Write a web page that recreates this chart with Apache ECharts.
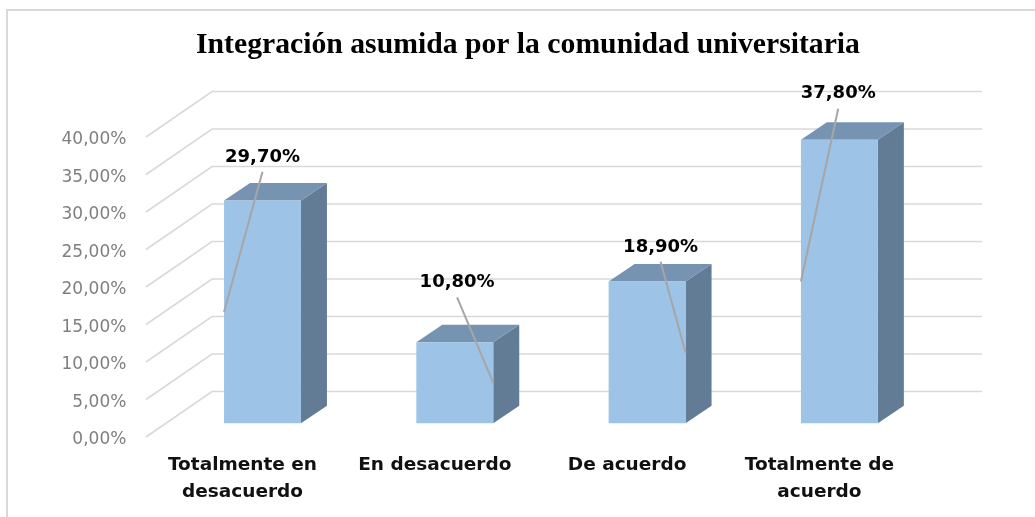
<!DOCTYPE html>
<html>
<head>
<meta charset="utf-8">
<style>html,body{margin:0;padding:0;background:#fff}#c{width:1035px;height:517px}</style>
<script src="https://cdn.jsdelivr.net/npm/echarts@6/dist/echarts.min.js"></script>
</head>
<body>
<div id="c"></div>
<script>
const titleText = 'Integración asumida por la comunidad universitaria';
const categories = ['Totalmente en\ndesacuerdo', 'En desacuerdo', 'De acuerdo', 'Totalmente de\nacuerdo'];
const values = [29.7, 10.8, 18.9, 37.8];
const yTicks = [0, 5, 10, 15, 20, 25, 30, 35, 40];

// layout only (pixels)
const labelOffset = [[0, -44.7], [2.3, -61], [13.5, -35.7], [-1.2, -47]];
const leaderSide = [-1, 1, 1, -1];
const FLOOR = 13.7, DX = 26, DY = 17.5;
const WALL_L = 146, WALL_B = 212, WALL_R = 982, WALL_DY = 45.5;
const fmt = v => v.toFixed(2).replace('.', ',') + '%';

const chart = echarts.init(document.getElementById('c'), null, {renderer: 'canvas'});
chart.setOption({
  animation: false,
  backgroundColor: '#fff',
  title: {
    text: titleText, left: 523, top: 25, textAlign: 'center',
    textStyle: {fontFamily: 'Liberation Serif', fontWeight: 'bold', fontSize: 29.7, color: '#000'}
  },
  grid: {left: 166.35, top: 137, width: 769.2, height: 300},
  xAxis: {
    type: 'category', data: categories,
    axisLine: {show: false}, axisTick: {show: false},
    axisLabel: {
      interval: 0, margin: 15, lineHeight: 27, padding: [0, 40, 0, 0],
      fontFamily: 'DejaVu Sans', fontWeight: 'bold', fontSize: 18.5, color: '#111'
    }
  },
  yAxis: {
    type: 'value', min: 0, max: 40, interval: 5,
    axisLine: {show: false}, axisTick: {show: false}, splitLine: {show: false},
    axisLabel: {
      margin: 40, formatter: v => '{a|' + fmt(v) + '}',
      rich: {a: {padding: [6, 0, 0, 0], fontFamily: 'DejaVu Sans', fontSize: 17, color: '#7f7f7f'}}
    }
  },
  graphic: [
    {type: 'polyline', silent: true, z: 0, shape: {points: [[7, 517], [7, 10], [1035, 10]]},
     style: {stroke: '#d9d9d9', lineWidth: 2, fill: null}}
  ],
  series: [
    {
      type: 'custom', coordinateSystem: 'cartesian2d', clip: false, z: 1,
      data: yTicks.map(v => [0, v]),
      encode: {x: 0, y: 1},
      renderItem(params, api) {
        const p = api.coord([0, api.value(1)])[1];
        return {
          type: 'polyline',
          shape: {points: [[WALL_L, p], [WALL_B, p - WALL_DY], [WALL_R, p - WALL_DY]]},
          style: {stroke: '#d9d9d9', lineWidth: 1.6, fill: null}
        };
      }
    },
    {
      type: 'custom', coordinateSystem: 'cartesian2d', clip: false, z: 2,
      data: values.map((v, i) => [i, v]),
      encode: {x: 0, y: 1},
      renderItem(params, api) {
        const i = api.value(0), v = api.value(1);
        const w = api.size([1, 0])[0] * 0.4;
        const c = api.coord([i, v]), z = api.coord([i, 0]), m = api.coord([i, v / 2]);
        const l = c[0] - w / 2, r = c[0] + w / 2, t = c[1] - FLOOR, b = z[1] - FLOOR;
        const off = labelOffset[i];
        const lx = c[0] + off[0], ly = t + off[1];
        const ex = leaderSide[i] < 0 ? l : r;
        return {
          type: 'group',
          children: [
            {type: 'polygon', shape: {points: [[r, t], [r + DX, t - DY], [r + DX, b - DY], [r, b]]},
             style: {fill: '#637c96'}},
            {type: 'polygon', shape: {points: [[l, t], [l + DX, t - DY], [r + DX, t - DY], [r, t]]},
             style: {fill: '#7693b2'}},
            {type: 'rect', shape: {x: l, y: t, width: w, height: b - t}, style: {fill: '#9dc3e6'}},
            {type: 'line', shape: {x1: lx, y1: ly + 16, x2: ex, y2: m[1] - FLOOR},
             style: {stroke: '#a6a6a6', lineWidth: 2}},
            {type: 'text', x: lx, y: ly + 1,
             style: {text: fmt(v), align: 'center', verticalAlign: 'middle',
                     fontFamily: 'DejaVu Sans', fontWeight: 'bold', fontSize: 18, fill: '#000'}}
          ]
        };
      }
    }
  ]
});
</script>
</body>
</html>
